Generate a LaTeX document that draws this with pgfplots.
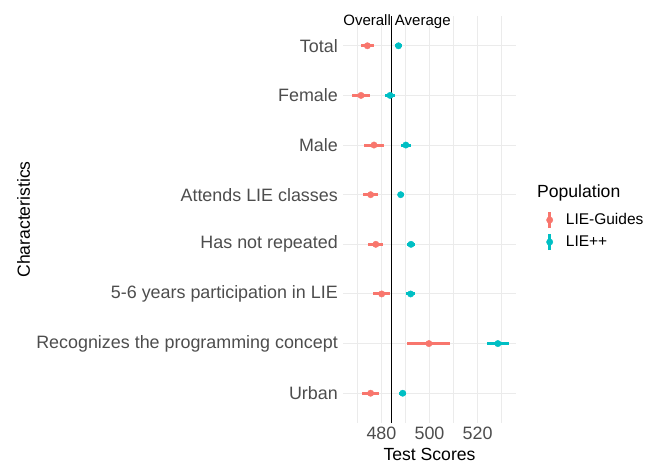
\documentclass[border=0pt]{standalone}
\usepackage{pgfplots}
\pgfplotsset{compat=1.18}
\usepackage{fontspec}
\setmainfont{Liberation Sans}
\definecolor{cRed}{HTML}{F8766D}
\definecolor{cTeal}{HTML}{00BFC4}
\definecolor{gridc}{HTML}{EBEBEB}
\definecolor{txtg}{HTML}{4D4D4D}
\begin{document}
\begin{tikzpicture}
\begin{axis}[
 name=ax,
 scale only axis, width=173bp, height=407bp,
 xmin=464, xmax=536, ymin=0.4, ymax=8.6,
 axis line style={draw=none},
 major tick length=0pt, minor tick length=0pt,
 xtick={480,500,520}, minor xtick={470,490,510,530},
 ytick={1,...,8},
 yticklabels={Urban, Recognizes the programming concept, 5-6 years participation in LIE, Has not repeated, Attends LIE classes, Male, Female, Total},
 xmajorgrids, xminorgrids, ymajorgrids,
 major grid style={gridc, line width=1.07bp},
 minor grid style={gridc, line width=0.53bp},
 tick label style={font=\fontsize{17.9bp}{20bp}\selectfont, text=txtg},
 /pgf/number format/assume math mode=true,
 y tick label style={inner sep=0pt, xshift=-5bp},
 x tick label style={inner sep=0pt, yshift=-4bp},
 xlabel={Test Scores}, ylabel={Characteristics},
 every axis x label/.style={at={(axis description cs:0.5,-0.0775)}, anchor=center, inner sep=0pt, font=\fontsize{17.6bp}{20bp}\selectfont},
 every axis y label/.style={at={(axis description cs:-1.847,0.5)}, rotate=90, anchor=center, inner sep=0pt, font=\fontsize{17.6bp}{20bp}\selectfont},
 clip=false,
 legend cell align=left,
 legend style={at={(axis description cs:1.174,0.4717)}, anchor=west, draw=none, fill=none,
   font=\fontsize{15.5bp}{18bp}\selectfont, row sep=3bp, inner sep=0pt,
   nodes={inner sep=2bp}},
]
\addplot[black, line width=0.8bp, forget plot] coordinates {(484.2,0.4) (484.2,8.6)};
\addplot[only marks, mark=*, color=cRed, mark size=3.2bp,
  legend image code/.code={\path (-2bp,0) (14bp,0); \draw[cRed, line width=3bp] (0bp,-8bp) -- (0bp,8bp); \fill[cRed] (0bp,0bp) circle (3.2bp);},
  error bars/.cd, x dir=both, x explicit, error mark=none, error bar style={line width=3bp}]
 coordinates {
 (474.15,8) +- (2.65,0)
 (471.5,7) +- (3.8,0)
 (476.9,6) +- (4.1,0)
 (475.5,5) +- (3.0,0)
 (477.65,4) +- (3.05,0)
 (480.1,3) +- (3.45,0)
 (499.75,2) +- (8.95,0)
 (475.5,1) +- (3.5,0)
 };
\addlegendentry{LIE-Guides}
\addplot[only marks, mark=*, color=cTeal, mark size=3.2bp,
  legend image code/.code={\path (-2bp,0) (14bp,0); \draw[cTeal, line width=3bp] (0bp,-8bp) -- (0bp,8bp); \fill[cTeal] (0bp,0bp) circle (3.2bp);},
  error bars/.cd, x dir=both, x explicit, error mark=none, error bar style={line width=3bp}]
 coordinates {
 (487.1,8) +- (1.3,0)
 (483.6,7) +- (2.1,0)
 (490.15,6) +- (2.05,0)
 (488.0,5) +- (1.3,0)
 (492.3,4) +- (1.5,0)
 (492.15,3) +- (1.75,0)
 (528.45,2) +- (4.45,0)
 (488.85,1) +- (1.4,0)
 };
\addlegendentry{LIE++}
\node[font=\fontsize{15bp}{18bp}\selectfont, inner sep=0pt] at (axis description cs:0.312,0.985) {Overall Average};
\node[anchor=west, inner sep=0pt, font=\fontsize{17.6bp}{20bp}\selectfont] at (axis description cs:1.121,0.565) {Population};
\end{axis}
\pgfresetboundingbox
\path[use as bounding box] ([shift={(-343bp,-41bp)}]ax.south west) rectangle ([shift={(130bp,16bp)}]ax.north east);
\end{tikzpicture}
\end{document}
